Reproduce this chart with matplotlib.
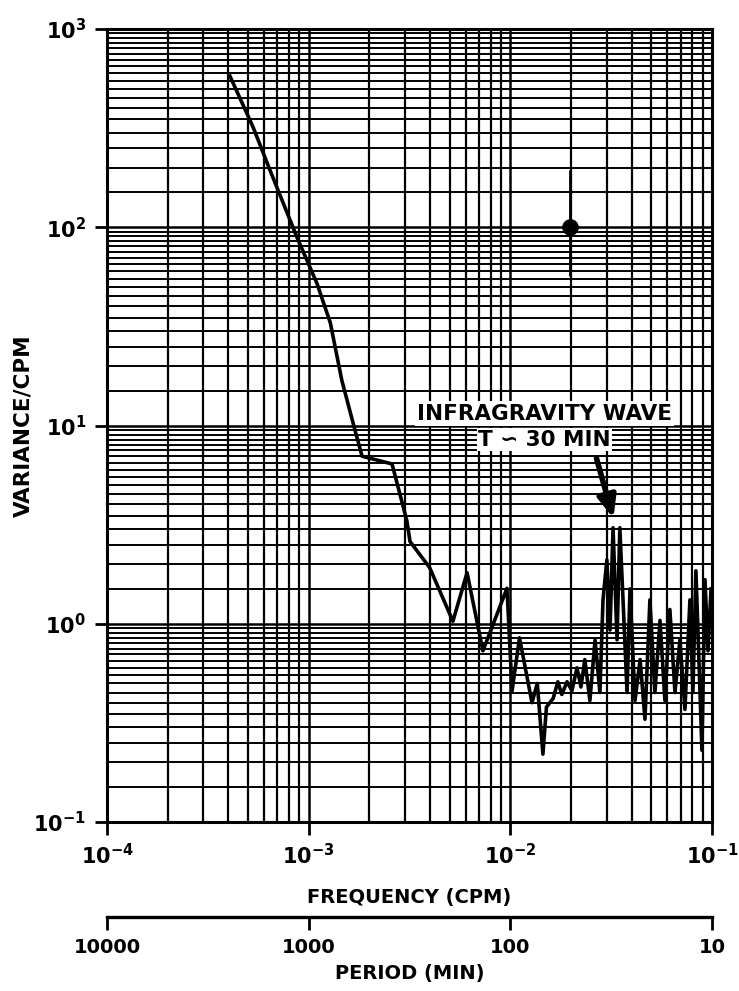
import numpy as np
import matplotlib
matplotlib.use("Agg")
import matplotlib.pyplot as plt
from matplotlib.ticker import LogLocator, NullFormatter, FixedLocator

# spectrum (frequency in CPM, variance/CPM)
freq = [4.07e-4, 5.30e-4, 6.43e-4, 8.75e-4, 1.10e-3, 1.28e-3, 1.46e-3, 1.70e-3,
        1.84e-3, 2.59e-3, 3.07e-3, 3.18e-3, 3.98e-3, 5.19e-3, 6.10e-3, 7.31e-3,
        9.62e-3, 1.02e-2, 1.11e-2, 1.28e-2, 1.36e-2, 1.45e-2, 1.51e-2, 1.63e-2,
        1.72e-2, 1.80e-2, 1.91e-2, 2.02e-2, 2.14e-2, 2.24e-2, 2.34e-2, 2.48e-2,
        2.63e-2, 2.78e-2, 2.88e-2, 3.01e-2, 3.12e-2, 3.23e-2, 3.38e-2, 3.49e-2,
        3.62e-2, 3.79e-2, 3.92e-2, 4.15e-2, 4.40e-2, 4.65e-2, 4.92e-2, 5.21e-2,
        5.52e-2, 5.84e-2, 6.18e-2, 6.55e-2, 6.93e-2, 7.34e-2, 7.77e-2, 8.04e-2,
        8.32e-2, 8.61e-2, 8.91e-2, 9.23e-2, 9.55e-2, 9.89e-2]
variance = [579, 320, 194, 89, 52, 33, 16.9, 9.4,
            7.0, 6.4, 3.3, 2.6, 1.92, 1.03, 1.81, 0.73,
            1.51, 0.46, 0.85, 0.40, 0.50, 0.22, 0.38, 0.42,
            0.51, 0.44, 0.51, 0.46, 0.60, 0.48, 0.66, 0.41,
            0.83, 0.45, 1.32, 2.10, 0.93, 3.05, 0.83, 3.05,
            1.32, 0.45, 1.50, 0.41, 0.66, 0.33, 1.32, 0.45,
            1.04, 0.41, 1.18, 0.45, 0.83, 0.37, 1.32, 0.45,
            1.85, 0.66, 0.23, 1.67, 0.73, 1.50]

# confidence bar
ci_freq = 0.0197
ci_mid = 100
ci_low = 57
ci_high = 195

xticks = [1e-4, 1e-3, 1e-2, 1e-1]
xticklabels = [r"$\mathbf{10^{-4}}$", r"$\mathbf{10^{-3}}$", r"$\mathbf{10^{-2}}$", r"$\mathbf{10^{-1}}$"]
yticks = [1e-1, 1e0, 1e1, 1e2, 1e3]
yticklabels = [r"$\mathbf{10^{-1}}$", r"$\mathbf{10^{0}}$", r"$\mathbf{10^{1}}$", r"$\mathbf{10^{2}}$", r"$\mathbf{10^{3}}$"]
periods = [1e4, 1e3, 1e2, 1e1]
period_labels = ["10000", "1000", "100", "10"]

plt.rcParams["font.family"] = ["DejaVu Sans"]
plt.rcParams["font.weight"] = "bold"
plt.rcParams["mathtext.fontset"] = "dejavusans"

fig = plt.figure(figsize=(7.39, 9.91), dpi=100)
ax = fig.add_axes([0.1448, 0.1705, 0.8187, 0.8002])

ax.set_xscale("log")
ax.set_yscale("log")
ax.set_xlim(1e-4, 1e-1)
ax.set_ylim(1e-1, 1e3)

# graph-paper grid
ax.xaxis.set_minor_locator(LogLocator(base=10, subs=np.arange(2, 10)))
ax.yaxis.set_minor_locator(LogLocator(base=10, subs=np.arange(1.5, 10, 0.5)))
ax.xaxis.set_minor_formatter(NullFormatter())
ax.yaxis.set_minor_formatter(NullFormatter())
ax.grid(True, which="major", color="black", lw=1.8)
ax.grid(True, which="minor", axis="x", color="black", lw=1.6)
ax.grid(True, which="minor", axis="y", color="black", lw=1.4)
ax.tick_params(which="minor", length=0)

ax.plot(freq, variance, color="black", lw=2.6, zorder=4)

ax.vlines(ci_freq, ci_low, ci_high, color="black", lw=2, zorder=4)
ax.plot([ci_freq], [ci_mid], "o", color="black", ms=11, zorder=5)

ax.annotate("", xy=(0.0327, 3.3), xytext=(0.0265, 7.05),
            arrowprops=dict(arrowstyle="-|>,head_width=0.55,head_length=1.3",
                            color="black", lw=4), zorder=6)

ax.text(0.0148, 11.5, "INFRAGRAVITY WAVE", ha="center", va="center",
        fontsize=15.5, fontweight="bold", zorder=7,
        bbox=dict(facecolor="white", edgecolor="none", pad=1.5))
ax.text(0.0148, 8.5, "T \u223d 30 MIN", ha="center", va="center",
        fontsize=15.5, fontweight="bold", zorder=7,
        bbox=dict(facecolor="white", edgecolor="none", pad=1.0))

ax.set_xticks(xticks)
ax.set_xticklabels(xticklabels)
ax.set_yticks(yticks)
ax.set_yticklabels(yticklabels)
ax.tick_params(which="major", direction="out", length=9, width=2, labelsize=15, pad=6)
for s in ax.spines.values():
    s.set_linewidth(2.2)

ax.set_xlabel("FREQUENCY (CPM)", fontsize=14, fontweight="bold", labelpad=14)
ax.set_ylabel("VARIANCE/CPM", fontsize=15.5, fontweight="bold")
ax.yaxis.set_label_coords(-0.122, 0.5)

# period scale below
ax2 = fig.add_axes([0.1448, 0.0747, 0.8187, 0.0001])
ax2.set_xscale("log")
ax2.set_xlim(1e4, 1e1)
ax2.patch.set_visible(False)
for side in ("left", "right", "top"):
    ax2.spines[side].set_visible(False)
ax2.spines["bottom"].set_linewidth(2.4)
ax2.set_yticks([])
ax2.xaxis.set_major_locator(FixedLocator(periods))
ax2.set_xticklabels(period_labels)
ax2.xaxis.set_minor_locator(FixedLocator([]))
ax2.tick_params(axis="x", direction="out", length=9, width=2, labelsize=14, pad=6)
ax2.set_xlabel("PERIOD (MIN)", fontsize=14, fontweight="bold", labelpad=5)

fig.savefig("out.png", dpi=100)
